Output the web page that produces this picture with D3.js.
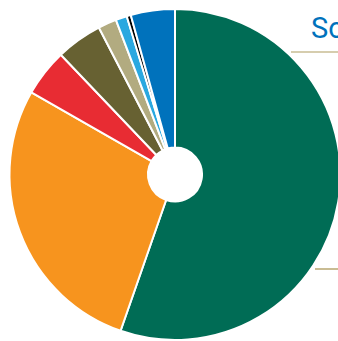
<!DOCTYPE html>
<html>
<head>
<meta charset="utf-8">
<script src="https://cdn.jsdelivr.net/npm/d3@7"></script>
<style>
  html, body { margin: 0; padding: 0; background: #fff; overflow: hidden; }
  svg { display: block; }
</style>
</head>
<body>
<div id="chart"></div>
<script>
// slice shares (percent), clockwise from 12 o'clock
const categories = ["A", "B", "C", "D", "E", "F", "G", "H"];
const values = [55.25, 27.9, 4.6, 4.5, 1.8, 1.1, 0.4, 4.3];
const colors = ["#006C55", "#F7941E", "#E82C33", "#676132", "#B2AB80", "#2AA8E0", "#000000", "#0072BC"];
const titleText = "So";

const width = 338, height = 341;
const cx = 175, cy = 174.5, radius = 165.5, hole = 27;

const svg = d3.select("#chart").append("svg")
    .attr("width", width)
    .attr("height", height);

const data = categories.map((c, i) => ({ cat: c, value: values[i], color: colors[i] }));

const pie = d3.pie().value(d => d.value).sort(null);
const arc = d3.arc().innerRadius(hole).outerRadius(radius);

const g = svg.append("g").attr("transform", `translate(${cx},${cy})`);

g.selectAll("path")
    .data(pie(data))
    .join("path")
    .attr("d", arc)
    .attr("fill", d => d.data.color)
    .attr("stroke", "#fff")
    .attr("stroke-width", 2)
    .attr("stroke-linejoin", "round");

// leader lines (tan) on the right
svg.append("line")
    .attr("x1", 291).attr("x2", width)
    .attr("y1", 52).attr("y2", 52)
    .attr("stroke", "#C9BC93").attr("stroke-width", 1.5);

svg.append("line")
    .attr("x1", 315).attr("x2", width)
    .attr("y1", 269).attr("y2", 269)
    .attr("stroke", "#C9BC93").attr("stroke-width", 2);

// title, clipped by the right edge
svg.append("text")
    .attr("x", 311)
    .attr("y", 38)
    .attr("fill", "#0072BC")
    .style("font-family", "'Liberation Sans Narrow', 'Roboto', sans-serif")
    .style("font-size", "29px")
    .text(titleText);
</script>
</body>
</html>
